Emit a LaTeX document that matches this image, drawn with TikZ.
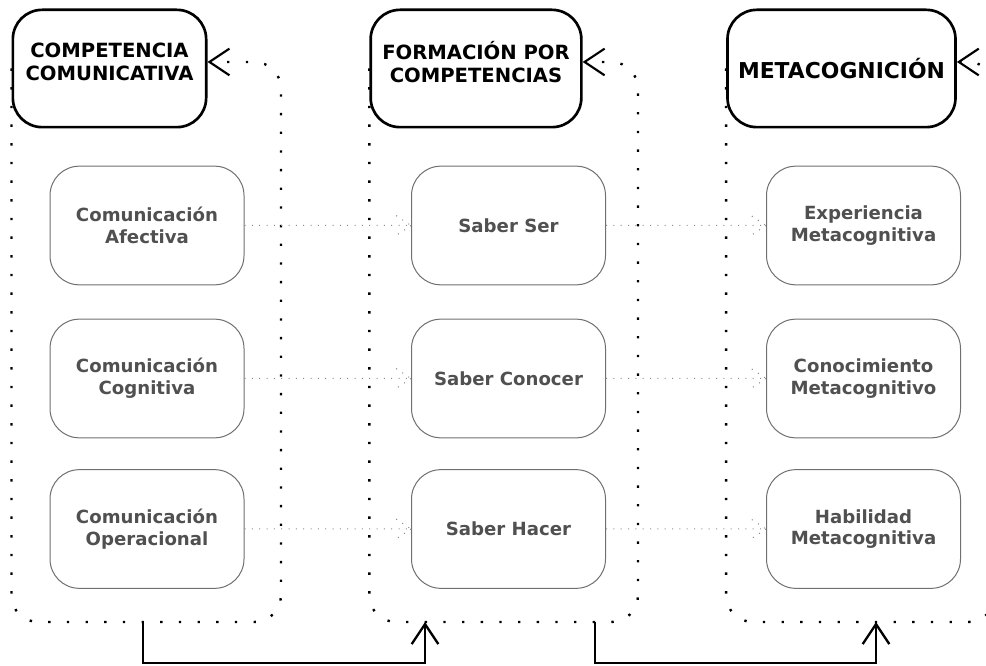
\documentclass[tikz,border=0pt]{standalone}
\usepackage{fontspec}
\setmainfont{DejaVu Sans}
\usetikzlibrary{arrows.meta,backgrounds}
\definecolor{itemtext}{HTML}{505050}
\definecolor{itemline}{HTML}{707070}
\definecolor{linkgray}{HTML}{8C8C8C}

\begin{document}
\begin{tikzpicture}[x=0.75pt,y=-0.75pt]
    \tikzstyle{head}=[rectangle,rounded corners=22pt,draw=black,line width=2pt,fill=white,minimum height=88pt,align=center,inner sep=2pt]
    \tikzstyle{item}=[rectangle,rounded corners=22pt,draw=itemline,line width=0.75pt,fill=white,minimum width=145.5pt,minimum height=89pt,align=center,text=itemtext,font=\fontsize{13.6}{16.3}\selectfont\bfseries]
    \tikzstyle{wrap}=[line width=1.8pt,dash pattern=on 1.8pt off 12.2pt,rounded corners=20pt,-{Straight Barb[length=15pt,width=20pt,line width=1.6pt]}]
    \tikzstyle{link}=[linkgray,line width=0.75pt,dash pattern=on 0.75pt off 4.75pt]
    \tikzstyle{jump}=[line width=1.75pt,-{Straight Barb[length=15pt,width=20pt]}]

    \clip (0,0) rectangle (986,666);

    \foreach \num/\x/\w/\fs/\dep/\txt in {1/109.5/145/14.7/10/{COMPETENCIA\\COMUNICATIVA}, 2/476/158/14.7/10/{FORMACIÓN POR\\COMPETENCIAS}, 3/841.5/171/16.4/0/{METACOGNICIÓN}}
        \node[head,minimum width=\w pt,text depth=\dep pt,font=\fontsize{\fs}{17}\selectfont\bfseries] (H-\num) at (\x,68.5) {\txt};

    \foreach \x/\y/\name/\txt in {147/225.5/1-1/{Comunicación\\Afectiva}, 147/378.5/1-2/{Comunicación\\Cognitiva}, 147/529/1-3/{Comunicación\\Operacional},
            508.5/225.5/2-1/{Saber Ser}, 508.5/378.5/2-2/{Saber Conocer}, 508.5/529/2-3/{Saber Hacer},
            863.5/225.5/3-1/{Experiencia\\Metacognitiva}, 863.5/378.5/3-2/{Conocimiento\\Metacognitivo}, 863.5/529/3-3/{Habilidad\\Metacognitiva}}
        \node[item] (I-\name) at (\x,\y) {\txt};

    % dotted frames round each column
    \coordinate (base) at (0,622);
    \begin{scope}[on background layer]
        \foreach \num/\r in {1/281, 2/638, 3/995}
            \draw[wrap] (H-\num.west) -- (H-\num.west |- base) -- (\r,622) -- (\r,62) -- ([yshift=4.9pt]H-\num.east);
    \end{scope}

    \foreach \a/\b in {1/2, 2/3}
        \foreach \row in {1,2,3}
            \draw[link] (I-\a-\row.east) -- (I-\b-\row.west) -- ++(-13.5pt,9pt) (I-\b-\row.west) -- ++(-13.5pt,-9pt);

    \coordinate (B-1) at (143,622);
    \coordinate (T-2) at (425,622);
    \coordinate (B-2) at (595,622);
    \coordinate (T-3) at (876,622);
    \foreach \from/\to in {1/2, 2/3}
        \draw[jump] (B-\from) -- ++(0,41) -| (T-\to);
\end{tikzpicture}
\end{document}
